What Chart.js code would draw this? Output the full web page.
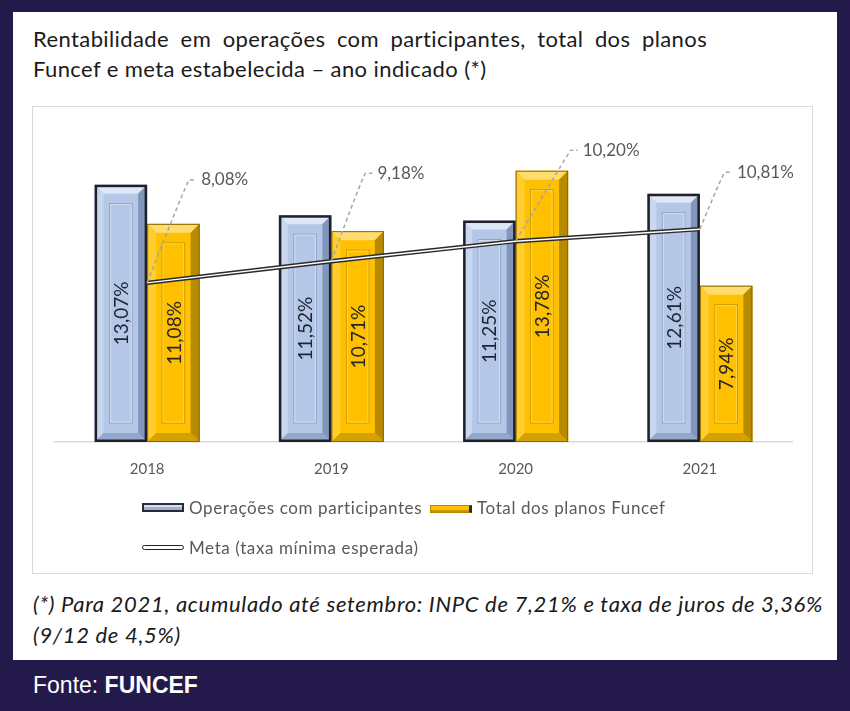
<!DOCTYPE html>
<html>
<head>
<meta charset="utf-8">
<script src="https://cdn.jsdelivr.net/npm/chart.js@4.4.0/dist/chart.umd.min.js"></script>
<style>
  body { margin: 0; width: 850px; height: 711px; background: #231a4b; position: relative; overflow: hidden; font-family: Lato, "Noto Sans", sans-serif; }
  #panel { position: absolute; left: 13px; top: 12px; width: 824px; height: 648px; background: #fff; }
  .t { position: absolute; left: 33px; color: #1a1a1a; white-space: nowrap; line-height: 1; }
  #box { position: absolute; left: 32px; top: 106px; width: 779px; height: 466px; border: 1px solid #dadada; }
  #chart { position: absolute; left: 32px; top: 106px; }
  .lg { position: absolute; font-size: 17px; letter-spacing: 0.6px; color: #595959; white-space: nowrap; line-height: 1; }
  .sw { position: absolute; box-sizing: border-box; }
  .note { font-style: italic; font-size: 22px; letter-spacing: 0.7px; }
  #fonte { position: absolute; left: 33px; top: 674px; color: #fff; font-family: "Liberation Sans", Arial, sans-serif; font-size: 23px; line-height: 1; }
</style>
</head>
<body>
<div id="panel"></div>
<div class="t" style="top:28px;font-size:22px;letter-spacing:0.4px;word-spacing:5.5px">Rentabilidade em operações com participantes, total dos planos</div>
<div class="t" style="top:58px;font-size:22px;letter-spacing:0.4px">Funcef e meta estabelecida – ano indicado (*)</div>
<div id="box"></div>
<canvas id="chart" width="781" height="468"></canvas>

<!-- legend -->
<div class="sw" style="left:142px;top:503px;width:42px;height:9px;background:#9fb2d4;border:2px solid #2a2a35;box-shadow:inset 0 2px 0 #d6e1f2"></div>
<div class="lg" style="left:189px;top:499px">Operações com participantes</div>
<div class="sw" style="left:430px;top:505px;width:42px;height:8px;background:#ffc000;border:1px solid #b38600;border-right:3px solid #2a2a2a;box-shadow:inset 0 -2px 0 #c99600"></div>
<div class="lg" style="left:477px;top:499px">Total dos planos Funcef</div>
<div class="sw" style="left:142px;top:545px;width:42px;height:5px;background:#fff;border:1.5px solid #222;border-radius:3px"></div>
<div class="lg" style="left:189px;top:539px">Meta (taxa mínima esperada)</div>

<div class="t note" style="top:593px">(*) Para 2021, acumulado até setembro: INPC de 7,21% e taxa de juros de 3,36%</div>
<div class="t note" style="top:624px">(9/12 de 4,5%)</div>
<div id="fonte">Fonte: <b>FUNCEF</b></div>

<script>
// data
const years = ['2018', '2019', '2020', '2021'];
const operacoes = [13.07, 11.52, 11.25, 12.61];
const totalPlanos = [11.08, 10.71, 13.78, 7.94];
const meta = [8.08, 9.18, 10.20, 10.81];

// format 13.07 -> "13,07%"
const fmt = v => v.toFixed(2).replace('.', ',') + '%';

// draws the bevelled look of the Excel bars
const bevelPlugin = {
  id: 'bevel',
  afterDatasetDraw(chart, args) {
    const ds = chart.data.datasets[args.index];
    if (!ds.bevel) return;
    const p = ds.bevel;
    const ctx = chart.ctx;
    args.meta.data.forEach(el => {
      const { x, y, base, width } = el.getProps(['x', 'y', 'base', 'width'], true);
      const l = x - width / 2, r = x + width / 2, t = y, b = base;
      const e = 9;
      ctx.save();
      const poly = (pts, c) => {
        ctx.beginPath();
        ctx.moveTo(pts[0][0], pts[0][1]);
        pts.slice(1).forEach(q => ctx.lineTo(q[0], q[1]));
        ctx.closePath();
        ctx.fillStyle = c;
        ctx.fill();
      };
      poly([[l, t], [r, t], [r - e, t + e], [l + e, t + e]], p.top);
      poly([[l, t], [l + e, t + e], [l + e, b - e], [l, b]], p.left);
      poly([[r, t], [r - e, t + e], [r - e, b - e], [r, b]], p.right);
      poly([[l, b], [l + e, b - e], [r - e, b - e], [r, b]], p.bottom);
      // inner panel outline
      const i = 15;
      ctx.lineWidth = 1;
      ctx.strokeStyle = p.inner;
      ctx.strokeRect(l + i, t + i + 4, width - 2 * i, b - t - 2 * i - 8);
      ctx.strokeStyle = p.light;
      ctx.strokeRect(l + i + 1, t + i + 5, width - 2 * i - 2, b - t - 2 * i - 10);
      // outer edge
      ctx.lineWidth = p.edgeWidth;
      ctx.strokeStyle = p.edge;
      ctx.strokeRect(l + p.edgeWidth / 2, t + p.edgeWidth / 2, width - p.edgeWidth, b - t - p.edgeWidth);
      ctx.restore();
    });
  }
};

// white core of the double meta line, value labels and leader labels
const labelPlugin = {
  id: 'labels',
  afterDatasetsDraw(chart, args, opts) {
    const ctx = chart.ctx;
    // white core line
    const lineMeta = chart.getDatasetMeta(2);
    ctx.save();
    ctx.beginPath();
    lineMeta.data.forEach((pt, k) => k ? ctx.lineTo(pt.x, pt.y) : ctx.moveTo(pt.x, pt.y));
    ctx.strokeStyle = '#ffffff';
    ctx.lineWidth = 1.4;
    ctx.stroke();
    ctx.restore();

    // rotated values inside bars
    [0, 1].forEach(di => {
      const m = chart.getDatasetMeta(di);
      const vals = chart.data.datasets[di].data;
      m.data.forEach((el, k) => {
        const { x, y, base } = el.getProps(['x', 'y', 'base'], true);
        ctx.save();
        ctx.translate(x, (y + base) / 2);
        ctx.rotate(-Math.PI / 2);
        ctx.font = '19px Lato';
        ctx.fillStyle = di === 0 ? '#1f2433' : '#262626';
        ctx.textAlign = 'center';
        ctx.textBaseline = 'middle';
        ctx.fillText(fmt(vals[k]), 0, 1);
        ctx.restore();
      });
    });

    // meta labels with dashed leaders
    lineMeta.data.forEach((pt, k) => {
      const [dx, dy] = opts.offsets[k];
      const tx = pt.x + dx, ty = pt.y + dy;
      ctx.save();
      ctx.setLineDash([4, 3]);
      ctx.strokeStyle = '#a6a6a6';
      ctx.lineWidth = 1.5;
      ctx.beginPath();
      ctx.moveTo(pt.x, pt.y);
      ctx.quadraticCurveTo(tx - 16, ty + 6, tx - 12, ty);
      ctx.lineTo(tx - 5, ty);
      ctx.stroke();
      ctx.setLineDash([]);
      ctx.font = '17px Lato';
      ctx.fillStyle = '#595959';
      ctx.textAlign = 'left';
      ctx.textBaseline = 'middle';
      ctx.fillText(fmt(chart.data.datasets[2].data[k]), tx, ty);
      ctx.restore();
    });
  }
};

const ctx = document.getElementById('chart').getContext('2d');
new Chart(ctx, {
  data: {
    labels: years,
    datasets: [
      {
        type: 'bar',
        label: 'Operações com participantes',
        data: operacoes,
        backgroundColor: '#b4c7e7',
        borderWidth: 0,
        order: 1,
        bevel: { top: '#dde7f6', left: '#c8d6ee', right: '#8196bb', bottom: '#93a7cb', inner: '#8ea2c6', light: '#d4dff1', edge: '#20202a', edgeWidth: 2.5 }
      },
      {
        type: 'bar',
        label: 'Total dos planos Funcef',
        data: totalPlanos,
        backgroundColor: '#ffc000',
        borderWidth: 0,
        order: 1,
        bevel: { top: '#ffdc6e', left: '#ffcd2e', right: '#b88a00', bottom: '#d4a200', inner: '#c99a00', light: '#ffd54d', edge: '#8a6700', edgeWidth: 1 }
      },
      {
        type: 'line',
        label: 'Meta (taxa mínima esperada)',
        data: meta,
        borderColor: '#2a2a2a',
        borderWidth: 4.4,
        pointRadius: 0,
        tension: 0,
        order: 0
      }
    ]
  },
  options: {
    responsive: false,
    animation: false,
    layout: { padding: { left: 23, right: 21, top: 21, bottom: 0 } },
    datasets: { bar: { categoryPercentage: 0.57, barPercentage: 1.0 } },
    scales: {
      x: {
        grid: { display: false, drawTicks: false },
        border: { display: true, color: '#d9d9d9', width: 1.5 },
        ticks: { color: '#595959', font: { family: 'Lato', size: 15 }, padding: 18 },
        afterFit: s => { s.height = 132; }
      },
      y: { display: false, min: 0, max: 16 }
    },
    plugins: {
      legend: { display: false },
      tooltip: { enabled: false },
      labels: { offsets: [[54, -103], [46, -88], [67, -91], [37, -57]] }
    }
  },
  plugins: [bevelPlugin, labelPlugin]
});
</script>
</body>
</html>
